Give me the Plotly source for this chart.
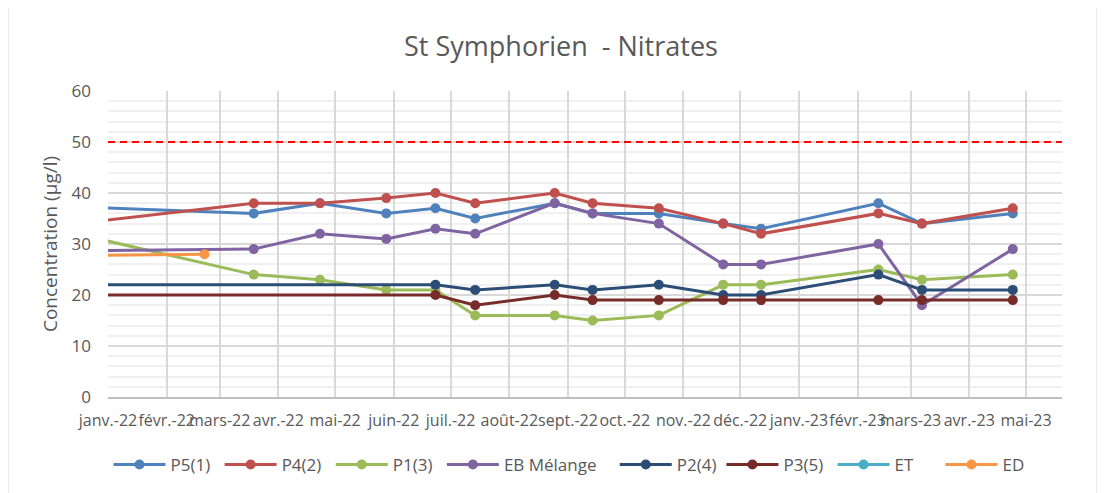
import plotly.graph_objects as go

# ---- data ----
dates_main = ["2021-12-01", "2022-03-19", "2022-04-23", "2022-05-28", "2022-06-23",
              "2022-07-14", "2022-08-25", "2022-09-14", "2022-10-19", "2022-11-22",
              "2022-12-12", "2023-02-12", "2023-03-07", "2023-04-24"]
p5_1 = [37.5, 36, 38, 36, 37, 35, 38, 36, 36, 34, 33, 38, 34, 36]
p4_2 = [33.4, 38, 38, 39, 40, 38, 40, 38, 37, 34, 32, 36, 34, 37]
p1_3 = [33.2, 24, 23, 21, 21, 16, 16, 15, 16, 22, 22, 25, 23, 24]
eb_melange = [28.6, 29, 32, 31, 33, 32, 38, 36, 34, 26, 26, 30, 18, 29]

dates_p = ["2021-12-01", "2022-06-23", "2022-07-14", "2022-08-25", "2022-09-14",
           "2022-10-19", "2022-11-22", "2022-12-12", "2023-02-12", "2023-03-07", "2023-04-24"]
p2_4 = [22, 22, 21, 22, 21, 22, 20, 20, 24, 21, 21]
p3_5 = [20, 20, 18, 20, 19, 19, 19, 19, 19, 19, 19]

dates_et = [None]
et = [None]
dates_ed = ["2021-12-01", "2022-02-21"]
ed = [27.7, 28]

threshold = 50

tick_dates = ["2022-01-01", "2022-02-01", "2022-03-01", "2022-04-01", "2022-05-01",
              "2022-06-01", "2022-07-01", "2022-08-01", "2022-09-01", "2022-10-01",
              "2022-11-01", "2022-12-01", "2023-01-01", "2023-02-01", "2023-03-01",
              "2023-04-01", "2023-05-01"]
tick_labels = ["janv.-22", "févr.-22", "mars-22", "avr.-22", "mai-22", "juin-22",
               "juil.-22", "août-22", "sept.-22", "oct.-22", "nov.-22", "déc.-22",
               "janv.-23", "févr.-23", "mars-23", "avr.-23", "mai-23"]

series_names = ["P5(1)", "P4(2)", "P1(3)", "EB Mélange", "P2(4)", "P3(5)", "ET", "ED"]
series_colors = ["#4F81BD", "#C0504D", "#9BBB59", "#8064A2", "#2C4D75", "#772C2A",
                 "#4BACC6", "#F79646"]
series_x = [dates_main, dates_main, dates_main, dates_main, dates_p, dates_p, dates_et, dates_ed]
series_y = [p5_1, p4_2, p1_3, eb_melange, p2_4, p3_5, et, ed]
# trailing non-breaking spaces only widen the legend slots like the reference
legend_pad = [1, 1, 1, 3, 0, 1, 5, 0]

FONT = "Open Sans"
GREY = "#595959"
NB = "\u00a0"

fig = go.Figure()
for name, xs, ys, col, pad in zip(series_names, series_x, series_y, series_colors, legend_pad):
    fig.add_trace(go.Scatter(
        x=xs, y=ys, name=name + NB * pad, mode="lines+markers",
        line=dict(color=col, width=3),
        marker=dict(color=col, size=10),
    ))

fig.add_hline(y=threshold, line=dict(color="#FF0000", width=2, dash="7px,5px"))

# chart border (page body adds an 8px offset; figure is sized to compensate)
W, H = 1097, 485
L, R, T, B = 100, 43, 83, 96
PW, PH = W - L - R, H - T - B
fig.add_shape(type="rect", xref="paper", yref="paper",
              x0=(0 - L) / PW, x1=(1089 - L) / PW, y0=-0.4, y1=(H - B + 4) / PH,
              line=dict(color="#D9D9D9", width=1), layer="below")

fig.update_layout(
    width=W, height=H,
    margin=dict(l=L, r=R, t=T, b=B, autoexpand=False),
    paper_bgcolor="white", plot_bgcolor="white",
    font=dict(family=FONT, color=GREY, size=16),
    title=dict(text="St Symphorien" + NB + " - Nitrates", x=553 / W, xanchor="center",
               y=1 - 39 / H, yanchor="middle", xref="container", yref="container",
               font=dict(size=27, color=GREY, family=FONT)),
    showlegend=True,
    legend=dict(orientation="h", x=(569 - 8 - L) / PW, xanchor="center",
                y=-(465 - 397) / PH, yanchor="middle",
                font=dict(size=17, color=GREY, family=FONT),
                itemwidth=52, bgcolor="rgba(0,0,0,0)"),
    xaxis=dict(
        type="date", range=["2022-01-01", "2023-05-20"], automargin=False,
        tickmode="array", tickvals=tick_dates, ticktext=tick_labels, tickangle=0,
        showgrid=True, gridcolor="#D9D9D9", gridwidth=1.5,
        showline=True, linecolor="#BFBFBF", linewidth=1.5,
        ticks="", ticklabelstandoff=8,
        tickfont=dict(size=16, color=GREY, family=FONT),
        zeroline=False,
    ),
    yaxis=dict(
        range=[0, 60], dtick=10, tick0=0, automargin=False,
        showgrid=True, gridcolor="#D9D9D9", gridwidth=1.5,
        minor=dict(dtick=2, showgrid=True, gridcolor="#F0F0F0", gridwidth=1.5),
        showline=False, zeroline=False, ticks="", ticklabelstandoff=16,
        tickfont=dict(size=17, color=GREY, family=FONT),
        title=dict(text="Concentration (µg/l)", standoff=8,
                   font=dict(size=19, color=GREY, family=FONT)),
    ),
)

fig.write_html("out.html")
